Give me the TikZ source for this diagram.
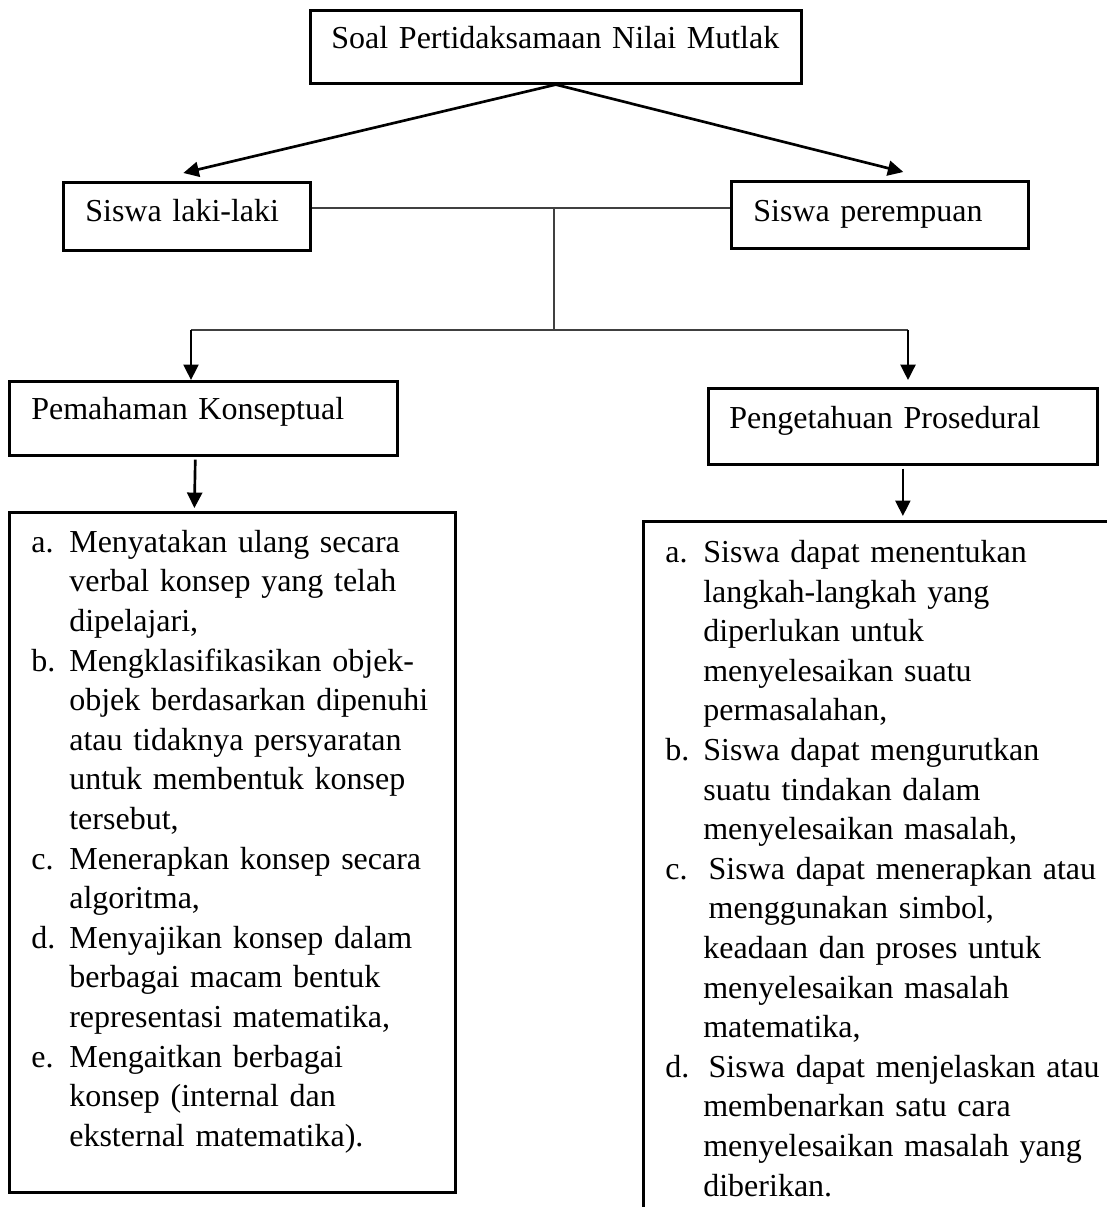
\documentclass[tikz,border=0pt]{standalone}
\usepackage{fontspec}
\setmainfont{Liberation Serif}
\usetikzlibrary{arrows.meta}

\tikzset{
  kotak/.style={draw,line width=1pt,anchor=north west,align=left,inner ysep=0pt,inner xsep=8.25pt},
  panah/.style={->,line width=1pt},
  garis/.style={line width=0.5pt,draw=black!75}
}

\begin{document}
\begin{tikzpicture}[x=0.375pt,y=-0.375pt,>={Triangle[length=5.8pt,width=5.6pt]},font=\fontsize{12}{14.85}\selectfont]
  \useasboundingbox (0,0) rectangle (1107,1207);
  \clip (0,0) rectangle (1107,1207);

  \node[kotak,inner xsep=7.9pt,text width=168.3pt,text height=14.25pt,text depth=13.1pt] (soal)      at (309,9)   {Soal Pertidaksamaan Nilai Mutlak};
  \node[kotak,text width=76.1pt,text height=14.6pt,text depth=10.9pt]                    (laki)      at (62,181)  {Siswa laki-laki};
  \node[kotak,text width=94.9pt,text height=15pt,text depth=10.1pt]                      (perempuan) at (730,180) {Siswa perempuan};
  \node[kotak,text width=129pt,text height=14.25pt,text depth=13.5pt]                    (konsep)    at (8,380)   {Pemahaman Konseptual};
  \node[kotak,inner xsep=7.9pt,text width=130.1pt,text height=15pt,text depth=13.5pt]    (prosedur)  at (707,387) {Pengetahuan Prosedural};

  \node[kotak,text width=150.75pt,text height=15pt,text depth=240pt] (ciri1) at (8,511) {%
    \begin{tabular}[t]{@{}p{14.25pt}@{}l@{}}
      a. & Menyatakan ulang secara\\
         & verbal konsep yang telah\\
         & dipelajari,\\
      b. & Mengklasifikasikan objek-\\
         & objek berdasarkan dipenuhi\\
         & atau tidaknya persyaratan\\
         & untuk membentuk konsep\\
         & tersebut,\\
      c. & Menerapkan konsep secara\\
         & algoritma,\\
      d. & Menyajikan konsep dalam\\
         & berbagai macam bentuk\\
         & representasi matematika,\\
      e. & Mengaitkan berbagai\\
         & konsep (internal dan\\
         & eksternal matematika).
    \end{tabular}};

  \node[kotak,text width=180pt,text height=15.4pt,text depth=260pt] (ciri2) at (642,520) {%
    \begin{tabular}[t]{@{}p{14.25pt}@{}l@{}}
      a. & Siswa dapat menentukan\\
         & langkah-langkah yang\\
         & diperlukan untuk\\
         & menyelesaikan suatu\\
         & permasalahan,\\
      b. & Siswa dapat mengurutkan\\
         & suatu tindakan dalam\\
         & menyelesaikan masalah,\\
      c. & \hspace{2pt}Siswa dapat menerapkan atau\\
         & \hspace{2pt}menggunakan simbol,\\
         & keadaan dan proses untuk\\
         & menyelesaikan masalah\\
         & matematika,\\
      d. & \hspace{2pt}Siswa dapat menjelaskan atau\\
         & membenarkan satu cara\\
         & menyelesaikan masalah yang\\
         & diberikan.
    \end{tabular}};

  \coordinate (tengah) at (554,208);
  \coordinate (cabang) at (554,330);
  \coordinate (kiri)   at (191,330);
  \coordinate (kanan)  at (908,330);

  \draw[panah] (soal.south) -- ([xshift=-1.3pt,yshift=3pt]laki.north);
  \draw[panah] (soal.south) -- ([xshift=8.8pt,yshift=3pt]perempuan.north);

  \draw[garis] (laki.east |- tengah) -- (perempuan.west |- tengah);
  \draw[garis] (tengah) -- (cabang);
  \draw[garis] (kiri) -- (kanan);

  \draw[panah] (kiri) -- (kiri |- konsep.north);
  \draw[panah,shorten >=2.6pt] (kanan) -- (kanan |- prosedur.north);

  \draw[panah,shorten <=1.1pt,shorten >=1.1pt] ([xshift=-3pt]konsep.south) -- ([xshift=-14.25pt]ciri1.north);
  \draw[panah,shorten <=1.1pt,shorten >=1.5pt] (prosedur.south) -- (prosedur.south |- ciri2.north);
\end{tikzpicture}
\end{document}
